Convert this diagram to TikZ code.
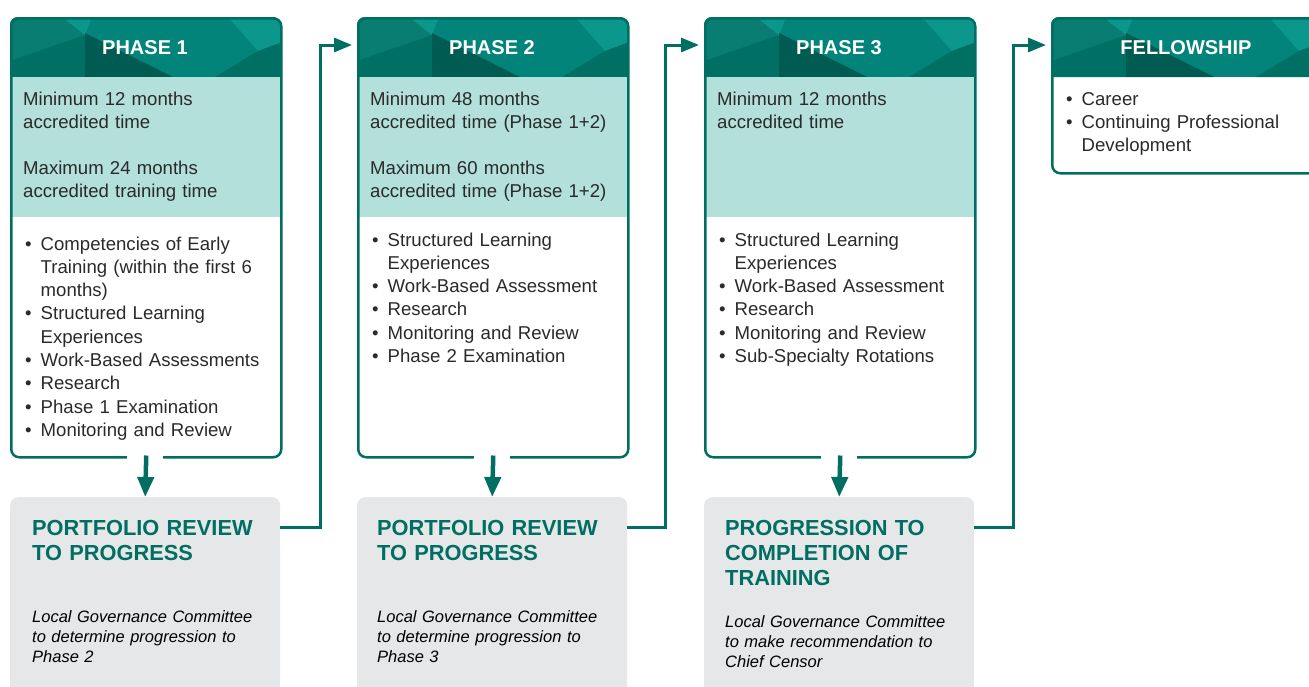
\documentclass[tikz,border=0pt]{standalone}
\usepackage{fontspec}
\setmainfont{Liberation Sans}
\usetikzlibrary{arrows.meta}
\definecolor{teal0}{HTML}{006E62}
\definecolor{hdbase}{HTML}{03847A}
\definecolor{hdlight}{HTML}{0B978C}
\definecolor{hdleft}{HTML}{0A7D72}
\definecolor{hddark}{HTML}{005C52}
\definecolor{hdmid}{HTML}{006F64}
\definecolor{lteal}{HTML}{B3E0DA}
\definecolor{gbox}{HTML}{E6E7E8}
\definecolor{txt}{HTML}{2A2A2A}
\newcommand\bl{\makebox[15.5pt][l]{•}}
\newcommand\cl{\hspace*{15.5pt}}
\newcommand\hdr[1]{%
 \begin{scope}[shift={(#1,17)}]
  \fill[hdbase] (0,0) rectangle (270,60);
  \fill[hdleft] (0,0) -- (58,0) -- (75,18) -- (0,44) -- cycle;
  \fill[hdlight] (52,0) -- (82,0) -- (75,18) -- cycle;
  \fill[hdmid] (0,44) -- (75,18) -- (75,60) -- (0,60) -- cycle;
  \fill[hddark] (75,16) -- (163,60) -- (75,60) -- cycle;
  \fill[hdlight] (218,0) -- (270,0) -- (270,26) -- (248,34) -- cycle;
  \fill[hdmid] (248,34) -- (270,26) -- (270,60) -- (205,60) -- cycle;
 \end{scope}}
\newcommand\phasebg[3]{% x left, bottom y, light bottom y
 \begin{scope}
  \clip[rounded corners=8pt] (#1,17) rectangle (#1+270,#2);
  \fill[white] (#1,17) rectangle (#1+270,#2);
  \hdr{#1}
  \ifx\relax#3\relax\else\fill[lteal] (#1,77) rectangle (#1+270,#3);\fi
 \end{scope}}
\tikzset{
 phaseframe/.style={draw=teal0, line width=2.5pt, rounded corners=8pt, minimum width=270pt, inner sep=0pt, anchor=north west},
 graybox/.style={fill=gbox, rounded corners=8pt, minimum width=270pt, minimum height=230pt, inner sep=0pt, anchor=north west},
 hdtext/.style={text=white, font=\fontsize{20}{24}\selectfont\bfseries, anchor=base, inner sep=0pt},
 bodytext/.style={text=txt, font=\fontsize{18.6}{23.3}\selectfont, anchor=base west, inner sep=0pt, text width=265pt, align=left},
 gtitle/.style={text=teal0, font=\fontsize{21.8}{25}\selectfont\bfseries, anchor=base west, inner sep=0pt, text width=265pt, align=left},
 gital/.style={text=black, font=\fontsize{16.5}{20}\selectfont\itshape, anchor=base west, inner sep=0pt, text width=262pt, align=left},
 conn/.style={draw=teal0, line width=3pt, -{Triangle[length=18pt,width=14pt]}, shorten >=5pt},
 downarr/.style={draw=teal0, line width=4.5pt, -{Triangle[length=20pt,width=16pt]}},
}
\begin{document}
\begin{tikzpicture}[x=1pt,y=-1pt]
\path[use as bounding box] (0,0) rectangle (1309,686);
\clip (0,0) rectangle (1309,686);

% ---------- phase boxes ----------
\phasebg{10}{456}{217}
\node[phaseframe, minimum height=439pt] (p1) at (10,17) {};
\phasebg{357}{456}{217}
\node[phaseframe, minimum height=439pt] (p2) at (357,17) {};
\phasebg{704}{456}{217}
\node[phaseframe, minimum height=439pt] (p3) at (704,17) {};
\phasebg{1051}{172}{}
\node[phaseframe, minimum height=155pt] (p4) at (1051,17) {};

\node[hdtext] (h1) at (145,54) {PHASE 1};
\node[hdtext] (h2) at (492,54) {PHASE 2};
\node[hdtext] (h3) at (839,54) {PHASE 3};
\node[hdtext] (h4) at (1186,54) {FELLOWSHIP};

% ---------- phase texts ----------
\node[bodytext] (p1min) at (23,105) {Minimum 12 months\\accredited time};
\node[bodytext] (p1max) at (23,174) {Maximum 24 months\\accredited training time};
\node[bodytext] (p1list) at (25,250) {\bl Competencies of Early\\\cl Training (within the first 6\\\cl months)\\\bl Structured Learning\\\cl Experiences\\\bl Work-Based Assessments\\\bl Research\\\bl Phase 1 Examination\\\bl Monitoring and Review};

\node[bodytext] (p2min) at (370,105) {Minimum 48 months\\accredited time (Phase 1+2)};
\node[bodytext] (p2max) at (370,174) {Maximum 60 months\\accredited time (Phase 1+2)};
\node[bodytext] (p2list) at (372,246) {\bl Structured Learning\\\cl Experiences\\\bl Work-Based Assessment\\\bl Research\\\bl Monitoring and Review\\\bl Phase 2 Examination};

\node[bodytext] (p3min) at (717,105) {Minimum 12 months\\accredited time};
\node[bodytext] (p3list) at (719,246) {\bl Structured Learning\\\cl Experiences\\\bl Work-Based Assessment\\\bl Research\\\bl Monitoring and Review\\\bl Sub-Specialty Rotations};

\node[bodytext] (p4list) at (1066,105) {\bl Career\\\bl Continuing Professional\\\cl Development};

% ---------- gray boxes ----------
\node[graybox] (g1) at (10,497) {};
\node[graybox] (g2) at (357,497) {};
\node[graybox] (g3) at (704,497) {};

\node[gtitle] (g1t) at (32,535.5) {PORTFOLIO REVIEW\\TO PROGRESS};
\node[gtitle] (g2t) at (377,535.5) {PORTFOLIO REVIEW\\TO PROGRESS};
\node[gtitle] (g3t) at (725,535.5) {PROGRESSION TO\\COMPLETION OF\\TRAINING};

\node[gital] (g1i) at (32,622) {Local Governance Committee\\to determine progression to\\Phase 2};
\node[gital] (g2i) at (377,622) {Local Governance Committee\\to determine progression to\\Phase 3};
\node[gital] (g3i) at (725,627) {Local Governance Committee\\to make recommendation to\\Chief Censor};

% ---------- down arrows ----------
\fill[white] (127,449) rectangle (163,463);
\fill[white] (474,449) rectangle (510,463);
\fill[white] (821,449) rectangle (857,463);
\draw[downarr] ([yshift=3pt]p1.south) -- (g1.north);
\draw[downarr] ([yshift=3pt]p2.south) -- (g2.north);
\draw[downarr] ([yshift=3pt]p3.south) -- (g3.north);

% ---------- connectors ----------
\coordinate (k1) at (320,527);
\coordinate (a1) at (320,45);
\coordinate (k2) at (665,527);
\coordinate (a2) at (665,45);
\coordinate (k3) at (1013,527);
\coordinate (a3) at (1013,45);
\draw[conn] (k1 -| g1.east) -- (k1) -- (a1) -- (a1 -| p2.west);
\draw[conn] (k2 -| g2.east) -- (k2) -- (a2) -- (a2 -| p3.west);
\draw[conn] (k3 -| g3.east) -- (k3) -- (a3) -- (a3 -| p4.west);
\end{tikzpicture}
\end{document}
